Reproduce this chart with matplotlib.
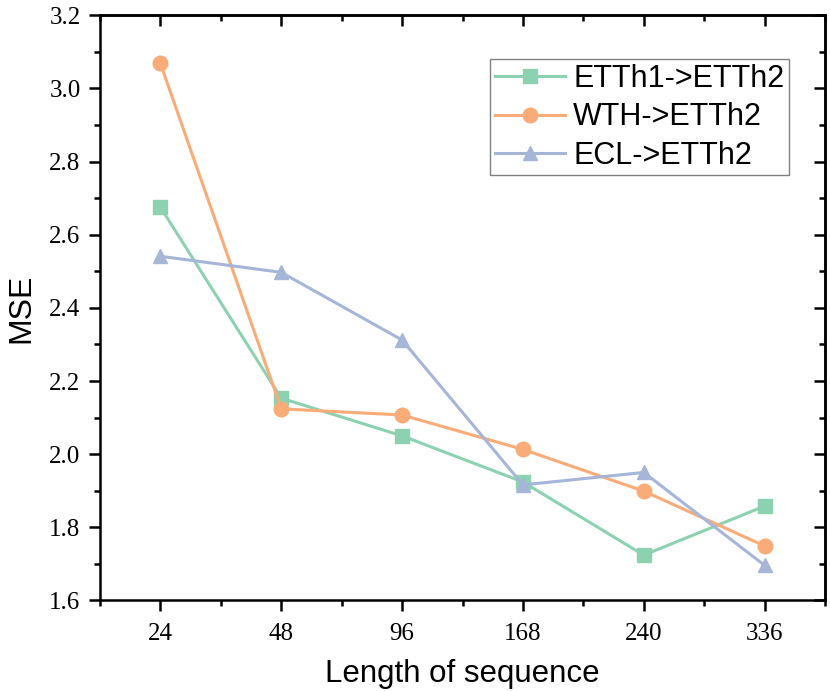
import matplotlib.pyplot as plt
from matplotlib.ticker import MultipleLocator

seq_len = ["24", "48", "96", "168", "240", "336"]
etth1 = [2.675, 2.153, 2.050, 1.924, 1.724, 1.858]
wth = [3.068, 2.124, 2.107, 2.013, 1.899, 1.749]
ecl = [2.541, 2.497, 2.312, 1.916, 1.950, 1.696]

labels = ["ETTh1->ETTh2", "WTH->ETTh2", "ECL->ETTh2"]
colors = ["#8CD2B0", "#F9AB78", "#A5B6D9"]
markers = ["s", "o", "^"]

fig = plt.figure(figsize=(8.3, 6.91), dpi=100)
ax = fig.add_axes([0.1205, 0.131, 0.8735, 0.847])

x = list(range(len(seq_len)))
for ys, lab, c, m in zip([etth1, wth, ecl], labels, colors, markers):
    ax.plot(x, ys, color=c, marker=m, markersize=10.5, linewidth=2.2, label=lab)

ax.set_xlim(-0.5, 5.5)
ax.set_ylim(1.6, 3.2)
ax.set_xticks(x)
ax.set_xticklabels(seq_len)
ax.xaxis.set_minor_locator(MultipleLocator(0.5))
ax.yaxis.set_major_locator(MultipleLocator(0.2))
ax.yaxis.set_minor_locator(MultipleLocator(0.1))
ax.yaxis.set_major_formatter(plt.FuncFormatter(lambda v, p: f"{v:.1f}"))

lw = 1.8
for s in ax.spines.values():
    s.set_linewidth(lw)

ax.tick_params(which="both", direction="out", width=lw, top=False, right=False,
               labelsize=18, labelfontfamily="Liberation Serif")
ax.tick_params(which="major", length=8)
ax.tick_params(which="minor", length=4.5)
ax.tick_params(axis="x", which="major", pad=8)
ax.tick_params(axis="y", which="major", pad=6)

# mirrored ticks pointing inwards on top and right
top = ax.secondary_xaxis("top")
top.set_xticks(x)
top.xaxis.set_minor_locator(MultipleLocator(0.5))
top.tick_params(which="both", direction="in", width=lw, labeltop=False)
top.tick_params(which="major", length=8)
top.tick_params(which="minor", length=4.5)
right = ax.secondary_yaxis("right")
right.yaxis.set_major_locator(MultipleLocator(0.2))
right.yaxis.set_minor_locator(MultipleLocator(0.1))
right.tick_params(which="both", direction="in", width=lw, labelright=False)
right.tick_params(which="major", length=8)
right.tick_params(which="minor", length=4.5)
for s in list(top.spines.values()) + list(right.spines.values()):
    s.set_linewidth(lw)

ax.set_xlabel("Length of sequence", fontfamily="Liberation Sans", fontsize=22.5)
ax.set_ylabel("MSE", fontfamily="Liberation Sans", fontsize=23)
ax.xaxis.set_label_coords(0.5, -0.1)
ax.yaxis.set_label_coords(-0.088, 0.5)

leg = ax.legend(loc="upper right", bbox_to_anchor=(0.95, 0.925), prop={"family": "Liberation Sans", "size": 22},
                fancybox=False, edgecolor="gray", framealpha=1, borderpad=0.15, handlelength=2.3,
                handletextpad=0.26, labelspacing=0.28, borderaxespad=0)
leg.get_frame().set_linewidth(1.0)

fig.savefig("out.png", dpi=100)
